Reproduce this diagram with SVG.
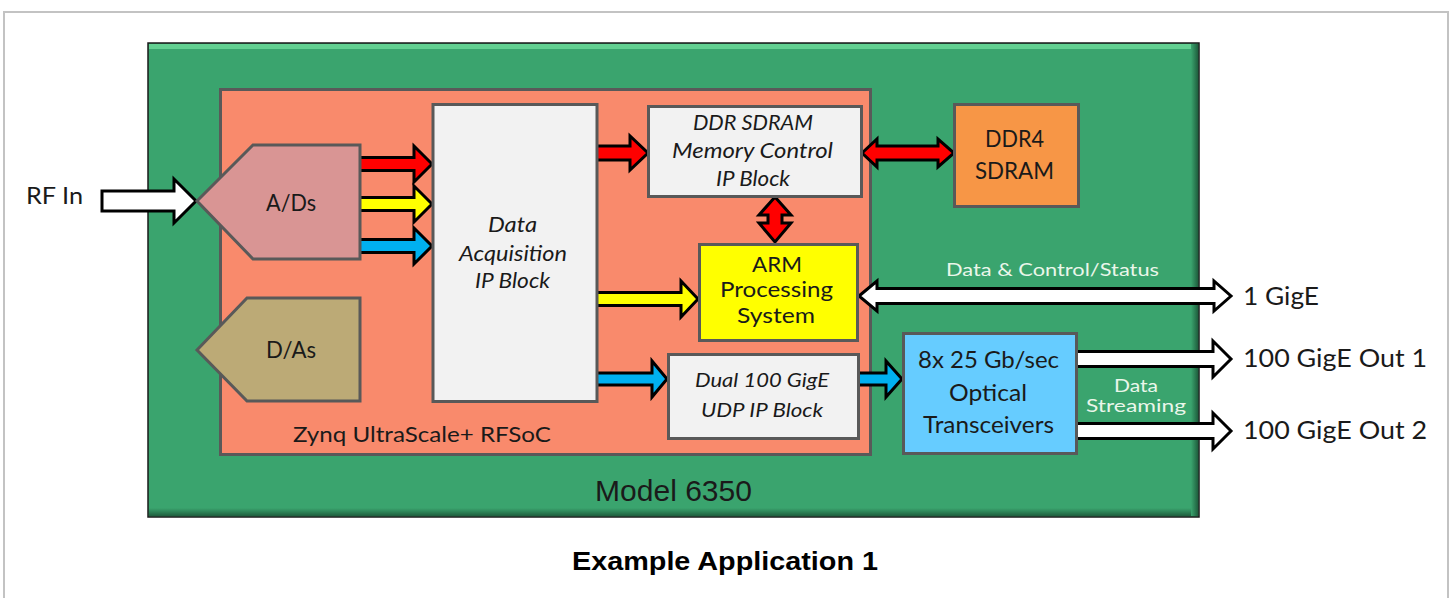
<svg xmlns="http://www.w3.org/2000/svg" width="1452" height="598" viewBox="0 0 1452 598">
<defs>
<style>
.t{font-family:Lato,"Liberation Sans",sans-serif;fill:#1a1a1a}
.i{font-style:italic}
.lt{fill:#eaf6ea}
.box{stroke:#595959;stroke-width:3}
.arr{stroke:#000;stroke-width:3;stroke-linejoin:miter}
</style>
<linearGradient id="shB" x1="0" y1="0" x2="0" y2="1"><stop offset="0" stop-color="#3aa46e"/><stop offset="1" stop-color="#1f5f3e"/></linearGradient>
<linearGradient id="shR" x1="0" y1="0" x2="1" y2="0"><stop offset="0" stop-color="#3aa46e"/><stop offset="1" stop-color="#1f5f3e"/></linearGradient>
</defs>
<rect x="0" y="0" width="1452" height="598" fill="#fff"/>
<rect x="4" y="12" width="1444" height="600" fill="#fff" stroke="#c3c3c3" stroke-width="2"/>

<g id="model6350">
<rect x="148" y="43" width="1051" height="474" fill="#3aa46e" stroke="#1a1a1a" stroke-width="1.5"/>
<rect x="149" y="44" width="1049" height="5" fill="#62d091"/>
<rect x="149" y="508" width="1049" height="8" fill="url(#shB)"/>
<rect x="1191" y="44" width="7" height="472" fill="url(#shR)"/>
<text class="t" x="595" y="501" style="font-family:'Liberation Sans',Arial,sans-serif" font-size="30" textLength="157" lengthAdjust="spacingAndGlyphs">Model 6350</text>
</g>

<g id="rfsoc">
<rect class="box" x="220.5" y="89.5" width="650" height="365" fill="#f98a6c"/>
<text class="t" x="293" y="442" font-size="21" textLength="258" lengthAdjust="spacingAndGlyphs">Zynq UltraScale+ RFSoC</text>
</g>

<g id="connectors">
<polygon class="arr" fill="#fff" points="102,191 174,191 174,179 196,201 174,223 174,211 102,211"/>
<polygon class="arr" fill="#ff0000" points="355,157.5 414,157.5 414,146 432,164 414,182 414,170.5 355,170.5"/>
<polygon class="arr" fill="#ffff00" points="355,197.5 414,197.5 414,186 432,204 414,222 414,210.5 355,210.5"/>
<polygon class="arr" fill="#00b0f0" points="355,239.5 414,239.5 414,228 432,246 414,264 414,252.5 355,252.5"/>
<polygon class="arr" fill="#ff0000" points="590,146 630,146 630,136 648,153 630,170 630,160 590,160"/>
<polygon class="arr" fill="#ffff00" points="590,292.5 681,292.5 681,281 698,299 681,317 681,305.5 590,305.5"/>
<polygon class="arr" fill="#00b0f0" points="590,373 652,373 652,361 667,379 652,397 652,385 590,385"/>
<polygon class="arr" fill="#00b0f0" points="850,373 886,373 886,361 902,379 886,397 886,385 850,385"/>
<polygon class="arr" fill="#ff0000" points="862,153 877,139 877,146 938,146 938,139 954,153 938,167 938,160 877,160 877,167"/>
<polygon class="arr" fill="#ff0000" points="775,197 791,215 782,215 782,223 791,223 775,242 759,223 768,223 768,215 759,215"/>
<polygon class="arr" fill="#fff" points="859,296 877,281 877,288.5 1214,288.5 1214,281 1231,296 1214,311 1214,303.5 877,303.5 877,311"/>
<polygon class="arr" fill="#fff" points="1070,351.5 1213,351.5 1213,341 1231,359 1213,377 1213,366.5 1070,366.5"/>
<polygon class="arr" fill="#fff" points="1070,423.5 1213,423.5 1213,413 1231,431 1213,449 1213,438.5 1070,438.5"/>
</g>

<g id="ads">
<polygon class="box" fill="#d99594" points="197,201 253,145 360,145 360,259 253,259"/>
<text class="t" x="266" y="211" font-size="24" textLength="50" lengthAdjust="spacingAndGlyphs">A/Ds</text>
</g>
<g id="das">
<polygon class="box" fill="#bcaa76" points="197,350 247,298 360,298 360,401 247,401"/>
<text class="t" x="266" y="358" font-size="23" textLength="50" lengthAdjust="spacingAndGlyphs">D/As</text>
</g>
<g id="daq">
<rect class="box" x="433" y="104.5" width="164" height="297" fill="#f2f2f2"/>
<text class="t i" x="488" y="232" font-size="21" textLength="49" lengthAdjust="spacingAndGlyphs">Data</text>
<text class="t i" x="459" y="261" font-size="21" textLength="108" lengthAdjust="spacingAndGlyphs">Acquisition</text>
<text class="t i" x="475" y="288" font-size="21" textLength="75" lengthAdjust="spacingAndGlyphs">IP Block</text>
</g>
<g id="ddrctrl">
<rect class="box" x="648.5" y="106.5" width="213" height="90" fill="#f2f2f2"/>
<text class="t i" x="693" y="130" font-size="21" textLength="120" lengthAdjust="spacingAndGlyphs">DDR SDRAM</text>
<text class="t i" x="672" y="158" font-size="21" textLength="161" lengthAdjust="spacingAndGlyphs">Memory Control</text>
<text class="t i" x="716" y="186" font-size="21" textLength="74" lengthAdjust="spacingAndGlyphs">IP Block</text>
</g>
<g id="arm">
<rect class="box" x="699.5" y="244.5" width="158" height="96" fill="#ffff00"/>
<text class="t" x="752" y="272" font-size="21" textLength="50" lengthAdjust="spacingAndGlyphs">ARM</text>
<text class="t" x="720" y="297" font-size="21" textLength="113" lengthAdjust="spacingAndGlyphs">Processing</text>
<text class="t" x="737" y="323" font-size="21" textLength="78" lengthAdjust="spacingAndGlyphs">System</text>
</g>
<g id="dual100">
<rect class="box" x="668.5" y="354.5" width="190" height="84" fill="#f2f2f2"/>
<text class="t i" x="695" y="387" font-size="19" textLength="134" lengthAdjust="spacingAndGlyphs">Dual 100 GigE</text>
<text class="t i" x="701" y="417" font-size="19" textLength="122" lengthAdjust="spacingAndGlyphs">UDP IP Block</text>
</g>
<g id="ddr4">
<rect class="box" x="954.5" y="104.5" width="124" height="102" fill="#f79646"/>
<text class="t" x="985" y="147" font-size="23" textLength="59" lengthAdjust="spacingAndGlyphs">DDR4</text>
<text class="t" x="975" y="179" font-size="23" textLength="79" lengthAdjust="spacingAndGlyphs">SDRAM</text>
</g>
<g id="optical">
<rect class="box" x="903.5" y="333.5" width="173" height="120" fill="#66ccff"/>
<text class="t" x="918" y="368" font-size="23" textLength="141" lengthAdjust="spacingAndGlyphs">8x 25 Gb/sec</text>
<text class="t" x="949" y="401" font-size="23" textLength="78" lengthAdjust="spacingAndGlyphs">Optical</text>
<text class="t" x="923" y="433" font-size="23" textLength="131" lengthAdjust="spacingAndGlyphs">Transceivers</text>
</g>

<g id="labels">
<text class="t" x="26" y="204" font-size="24" textLength="57" lengthAdjust="spacingAndGlyphs">RF In</text>
<text class="t lt" x="946" y="276" font-size="18" textLength="213" lengthAdjust="spacingAndGlyphs">Data &amp; Control/Status</text>
<text class="t" x="1243" y="305" font-size="25" textLength="76" lengthAdjust="spacingAndGlyphs">1 GigE</text>
<text class="t lt" x="1114" y="392" font-size="18" textLength="44" lengthAdjust="spacingAndGlyphs">Data</text>
<text class="t lt" x="1086" y="412" font-size="18" textLength="100" lengthAdjust="spacingAndGlyphs">Streaming</text>
<text class="t" x="1243" y="367" font-size="25" textLength="184" lengthAdjust="spacingAndGlyphs">100 GigE Out 1</text>
<text class="t" x="1243" y="439" font-size="25" textLength="184" lengthAdjust="spacingAndGlyphs">100 GigE Out 2</text>
<text x="572" y="570" style="font-family:'Liberation Sans',Arial,sans-serif;font-weight:bold" font-size="25" fill="#000" textLength="306" lengthAdjust="spacingAndGlyphs">Example Application 1</text>
</g>
</svg>
